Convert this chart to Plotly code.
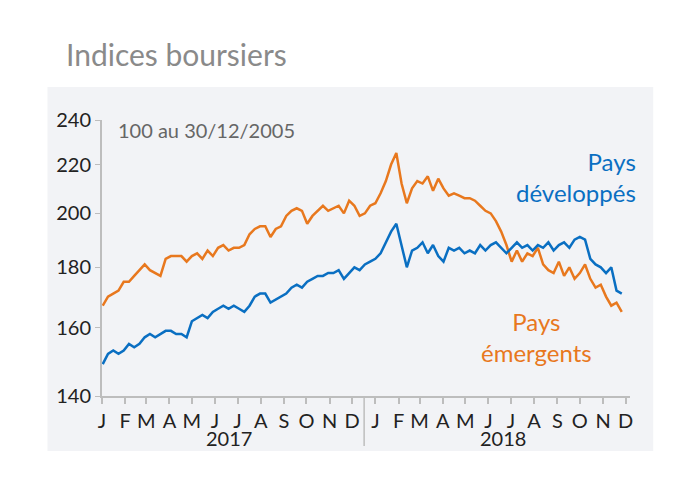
import math
import pandas as pd
import plotly.graph_objects as go

dates = pd.date_range("2017-01-02", periods=100, freq="W-MON")

emergents = [
    167,170,171,172,175, 175,177,179,181, 179,178,177,183, 184,184,184,182,
    184,185,183,186,184, 187,188,186,187, 187,188,192,194,195, 195,191,194,195,
    199,201,202,201, 196,199,201,203,201, 202,203,200,205, 203,199,200,203,
    204,208,213,220,225, 212,204,210,213, 212,215,209,214, 210,207,208,207,206,
    206,205,203,201, 200,197,193,188, 182,186,182,185,184, 187,181,179,178,
    182,177,180,176, 178,181,176,173,174, 170,167,168,165,
]
developpes = [
    149,152,153,152,153, 155,154,155,157, 158,157,158,159, 159,158,158,157,
    162,163,164,163,165, 166,167,166,167, 166,165,167,170,171, 171,168,169,170,
    171,173,174,173, 175,176,177,177,178, 178,179,176,178, 180,179,181,182,
    183,185,189,193,196, 188,180,186,187, 189,185,188,184, 182,187,186,187,185,
    186,185,188,186, 188,189,187,185, 187,189,187,188,186, 188,187,189,186,
    188,189,187,190, 191,190,183,181,180, 178,180,172,171,
]
month_ticks = pd.date_range("2017-01-01", "2018-12-01", freq="MS")
month_letters = list("JFMAMJJASOND") * 2
y_ticks = [140, 160, 180, 200, 220, 240]

BLUE = "#0A6FC2"
ORANGE = "#E8781E"
FONT = "Lato"

fig = go.Figure()
fig.add_trace(go.Scatter(x=dates, y=emergents, mode="lines",
                         line=dict(color=ORANGE, width=2.5), showlegend=False))
fig.add_trace(go.Scatter(x=dates, y=developpes, mode="lines",
                         line=dict(color=BLUE, width=2.5), showlegend=False))

fig.update_layout(
    width=695, height=483,
    margin=dict(l=94, r=73, t=112, b=95),
    paper_bgcolor="white", plot_bgcolor="rgba(0,0,0,0)",
    font=dict(family=FONT, color="#222", size=20),
    xaxis=dict(range=["2017-01-01", "2018-12-07"], tickvals=month_ticks,
               ticktext=month_letters, showgrid=False, zeroline=False,
               showline=True, linecolor="#bdbdbd", linewidth=2,
               ticks="outside", ticklen=6, tickcolor="#bdbdbd", tickwidth=1.5,
               tickfont=dict(size=20, color="#222")),
    yaxis=dict(type="log", range=[math.log10(140), math.log10(240)],
               tickvals=y_ticks, ticktext=[str(v) for v in y_ticks],
               showgrid=False, zeroline=False, showline=True,
               linecolor="#bdbdbd", linewidth=2, ticks="outside", ticklen=5,
               tickcolor="#bdbdbd", tickfont=dict(size=20, color="#222")),
)

fig.add_shape(type="rect", xref="paper", yref="paper",
              x0=-54/523, x1=546/523, y0=-55/276, y1=309/276,
              fillcolor="#F2F3F6", line=dict(width=0), layer="below")
fig.add_shape(type="line", xref="x", yref="paper",
              x0="2017-12-17", x1="2017-12-17", y0=0, y1=-50/276,
              line=dict(color="#bdbdbd", width=1.5))

fig.add_annotation(text="2017", xref="x", yref="paper", x="2017-06-20",
                   y=-42/276, showarrow=False, yanchor="middle",
                   font=dict(size=20, color="#222"))
fig.add_annotation(text="2018", xref="x", yref="paper", x="2018-06-20",
                   y=-42/276, showarrow=False, yanchor="middle",
                   font=dict(size=20, color="#222"))
fig.add_annotation(text="100 au 30/12/2005", xref="paper", yref="paper",
                   x=14/523, y=1 - 10/276, showarrow=False,
                   xanchor="left", yanchor="middle",
                   font=dict(size=20, color="#666"))
fig.add_annotation(text="Pays<br>développés", xref="paper", yref="paper",
                   x=531/523, y=1 - 57/276, showarrow=False,
                   xanchor="right", yanchor="middle", align="right",
                   font=dict(size=24, color=BLUE))
fig.add_annotation(text="Pays<br>émergents", xref="paper", yref="paper",
                   x=430/523, y=1 - 217/276, showarrow=False,
                   xanchor="center", yanchor="middle", align="center",
                   font=dict(size=24, color=ORANGE))
fig.add_annotation(text="Indices boursiers", xref="paper", yref="paper",
                   x=-38/523, y=1 + 66/276, showarrow=False,
                   xanchor="left", yanchor="middle",
                   font=dict(size=30, color="#8a8a8a"))

fig.write_html("out.html")
